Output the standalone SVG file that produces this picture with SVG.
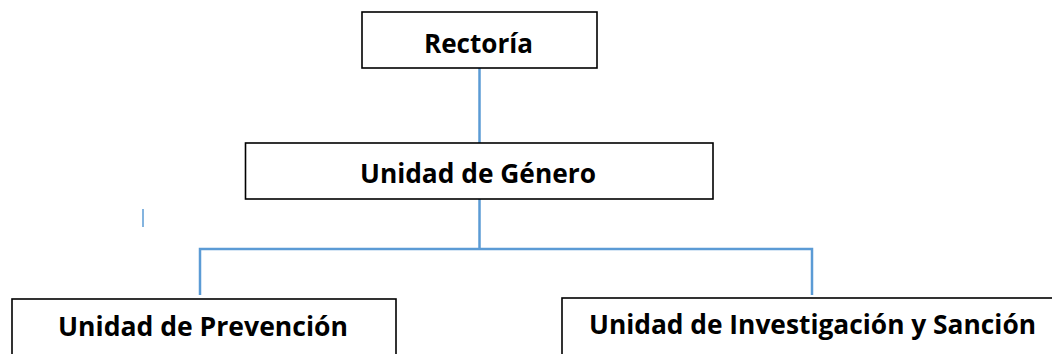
<svg xmlns="http://www.w3.org/2000/svg" width="1052" height="354" viewBox="0 0 1052 354">
<style>
.box{fill:#fff;stroke:#000;stroke-width:1.6}
.lbl{font-family:"Open Sans","Liberation Sans",sans-serif;font-weight:700;font-size:26px;fill:#000;text-anchor:middle}
.conn{fill:none;stroke:#5B9BD5;stroke-width:2.5}
</style>
<rect width="1052" height="354" fill="#fff"/>
<g id="connectors">
<line class="conn" x1="479.5" y1="68" x2="479.5" y2="143"/>
<line class="conn" x1="479.5" y1="199" x2="479.5" y2="249"/>
<polyline class="conn" points="200,295 200,249 812,249 812,295"/>
<line x1="143" y1="209" x2="143" y2="227" stroke="#5B9BD5" stroke-width="1.5"/>
</g>
<g id="rectoria">
<rect class="box" x="362" y="12" width="235" height="56"/>
<text class="lbl" x="478.5" y="53" textLength="109" lengthAdjust="spacingAndGlyphs">Rectoría</text>
</g>
<g id="genero">
<rect class="box" x="245.5" y="143" width="467.5" height="56"/>
<text class="lbl" x="478" y="182.5" textLength="236" lengthAdjust="spacingAndGlyphs">Unidad de Género</text>
</g>
<g id="prevencion">
<rect class="box" x="12" y="299" width="384" height="70"/>
<text class="lbl" x="203" y="336" textLength="290" lengthAdjust="spacingAndGlyphs">Unidad de Prevención</text>
</g>
<g id="investigacion">
<rect class="box" x="562" y="298" width="510" height="70"/>
<text class="lbl" x="812.5" y="334" textLength="447" lengthAdjust="spacingAndGlyphs">Unidad de Investigación y Sanción</text>
</g>
</svg>
